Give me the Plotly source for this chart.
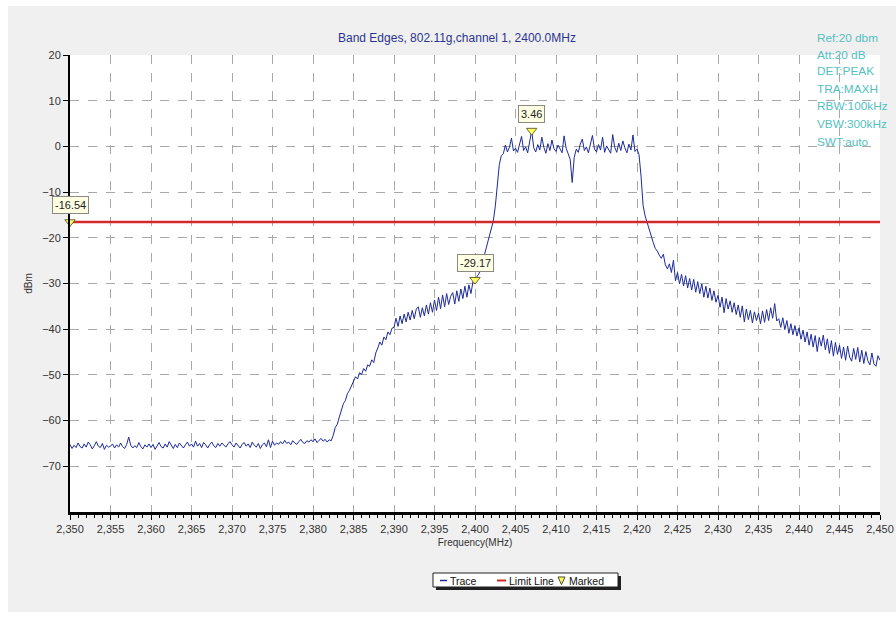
import plotly.graph_objects as go

# ---------------- data ----------------
freq_start = 2350.0
freq_step = 0.25
trace_dbm = [
    -65.2, -66.1, -65.4, -65.9, -64.9, -65.7, -66.0, -65.1, -65.8, -64.7, -65.3, -66.2, -65.5, -64.6, -65.6, -65.9, -65.0, -66.3, -65.4, -65.8,
    -65.6, -65.1, -66.0, -65.3, -65.8, -64.9, -65.7, -66.1, -65.2, -63.6, -65.4, -66.0, -65.5, -65.9, -64.8, -65.7, -66.2, -65.3, -65.8, -65.1,
    -65.9, -65.2, -66.3, -65.6, -64.8, -65.7, -66.0, -65.1, -65.8, -64.6, -65.5, -66.1, -65.2, -65.9, -64.9, -65.4, -66.0, -65.3, -64.7, -65.6,
    -65.1, -65.8, -64.5, -65.6, -65.0, -65.9, -64.8, -65.3, -66.0, -65.2, -64.7, -65.5, -65.9, -65.0, -65.6, -64.9, -65.4, -65.8, -65.1, -64.6,
    -65.3, -65.8, -64.9, -65.5, -66.0, -65.2, -64.8, -65.6, -65.1, -65.9, -64.7, -65.4, -65.8, -65.0, -66.1, -65.3, -64.9, -65.7, -64.2, -65.9,
    -64.5, -65.4, -64.9, -65.2, -64.6, -65.1, -64.3, -65.0, -64.7, -65.3, -64.4, -64.9, -65.2, -64.6, -64.1, -64.8, -65.0, -64.4, -64.7, -64.2,
    -64.6, -64.0, -64.8, -64.3, -63.9, -64.5, -64.1, -64.7, -64.2, -64.4, -63.2, -61.5, -60.8, -59.2, -57.5, -56.3, -55.6, -54.1, -53.4, -52.5,
    -51.6, -50.4, -50.9, -49.5, -49.9, -48.6, -49.2, -47.8, -48.1, -46.7, -47.3, -45.2, -44.1, -42.8, -43.5, -41.7, -42.3, -40.6, -41.2, -39.8,
    -39.6, -37.6, -39.4, -37.1, -38.8, -36.7, -38.4, -36.3, -38.0, -35.9, -37.7, -35.6, -35.1, -37.4, -35.3, -37.1, -34.7, -36.7, -34.2, -36.3,
    -33.6, -35.9, -33.0, -35.5, -32.5, -35.1, -32.2, -34.6, -32.8, -32.0, -34.5, -31.6, -33.9, -31.2, -33.3, -30.6, -33.0, -30.3, -32.2, -29.6,
    -29.17, -28.5, -27.8, -26.5, -24.8, -23.0, -21.3, -19.6, -18.2, -16.4, -13.2, -8.5, -4.0, -2.0, -1.6, 0.3, -1.2, -0.2, 1.8, -1.0,
    -0.4, -1.3, 0.2, 2.2, -0.9, -0.1, -1.4, 0.9, 3.46, -0.3, -1.2, 0.4, -0.8, 2.0, -0.2, -1.5, 0.6, -0.9, 1.4, -0.5,
    -1.1, 0.3, -0.7, -1.4, 2.3, -0.4, -1.6, -2.8, -7.9, -2.4, -0.6, -1.3, 0.5, 1.6, -0.9, -0.1, -1.4, 0.8, 2.4, -0.6,
    -1.2, 0.4, -0.8, 2.0, -1.3, 0.1, -0.6, -1.5, 2.6, -0.2, -1.3, 0.7, -0.9, 1.2, -0.3, -1.4, 0.5, -0.8, 2.5, -1.1,
    -0.6, -1.8, -6.5, -12.9, -15.2, -16.8, -18.4, -19.6, -21.0, -22.3, -22.9, -23.8, -24.5, -23.6, -25.9, -26.8, -25.7, -27.6, -24.9, -29.4,
    -27.6, -30.1, -28.0, -30.5, -28.3, -31.0, -28.9, -31.4, -29.1, -31.9, -29.6, -32.2, -30.1, -33.0, -30.6, -33.2, -31.0, -33.7, -31.6, -34.1,
    -32.6, -35.2, -33.0, -36.4, -33.3, -35.6, -33.8, -36.3, -34.2, -36.8, -34.7, -37.4, -34.9, -38.4, -35.6, -37.9, -35.9, -38.6, -36.2, -38.1,
    -36.5, -38.8, -36.0, -38.5, -35.7, -38.1, -35.3, -37.6, -34.4, -38.2, -37.7, -39.6, -37.5, -40.1, -38.1, -40.9, -38.8, -41.2, -39.2, -41.5,
    -39.7, -42.2, -40.2, -42.8, -40.6, -43.5, -41.1, -43.9, -41.4, -44.9, -41.8, -43.7, -41.3, -44.5, -42.1, -45.3, -42.5, -45.9, -42.9, -45.5,
    -43.5, -46.4, -43.9, -46.8, -43.7, -46.1, -47.0, -44.2, -46.6, -44.0, -47.2, -44.6, -47.5, -44.9, -46.9, -47.8, -45.2, -47.6, -48.1, -45.8,
    -46.8,
]
freq_mhz = [freq_start + freq_step * i for i in range(len(trace_dbm))]

limit_freq = [2350, 2450]
limit_dbm = -16.54

marker_freq = [2350, 2400, 2407]
marker_dbm = [-16.54, -29.17, 3.46]
marker_labels = ["-16.54", "-29.17", "3.46"]

x_ticks = list(range(2350, 2451, 5))
y_ticks = [20, 10, 0, -10, -20, -30, -40, -50, -60, -70]

title_text = "Band Edges, 802.11g,channel 1, 2400.0MHz"
info_lines = ["Ref:20 dbm", "Att:20 dB", "DET:PEAK", "TRA:MAXH", "RBW:100kHz", "VBW:300kHz", "SWT:auto"]
legend_items = ["Trace", "Limit Line", "Marked"]

# ---------------- layout helpers ----------------
W, H = 896, 617
L, R, T, B = 70, 16, 55, 105
PW, PH = W - L - R, H - T - B
FONT = "Liberation Sans, Arial, sans-serif"


def px(xp):
    return (xp - L) / PW


def py(yp):
    return (H - B - yp) / PH


TRACE_COLOR = "#1c2a9c"
LIMIT_COLOR = "#d02a2a"

fig = go.Figure()

fig.add_trace(go.Scatter(x=freq_mhz, y=trace_dbm, mode="lines",
                         line=dict(color=TRACE_COLOR, width=1), showlegend=False,
                         hoverinfo="skip"))
fig.add_trace(go.Scatter(x=limit_freq, y=[limit_dbm] * len(limit_freq), mode="lines",
                         line=dict(color=LIMIT_COLOR, width=2.5), showlegend=False,
                         hoverinfo="skip"))
fig.add_trace(go.Scatter(x=marker_freq, y=marker_dbm, mode="markers",
                         marker=dict(symbol="triangle-down", size=9, color="#ffff66",
                                     line=dict(color="#6b6b2a", width=1)),
                         cliponaxis=False, showlegend=False, hoverinfo="skip"))

annotations = []
for f, v, lab in zip(marker_freq, marker_dbm, marker_labels):
    annotations.append(dict(x=f, y=v, xref="x", yref="y", text=lab, showarrow=False,
                            yshift=17, font=dict(family=FONT, size=11, color="#222222"),
                            bgcolor="#ffffe4", bordercolor="#8a8a80", borderwidth=1, borderpad=2,
                            xanchor="center", yanchor="middle"))

annotations.append(dict(x=px(457), y=py(38), xref="paper", yref="paper", text=title_text,
                        showarrow=False, xanchor="center", yanchor="middle",
                        font=dict(family=FONT, size=12, color="#2b3590")))
info_y = [37.7, 55.0, 71.0, 88.5, 106.5, 124.0, 141.5]
for line, yy in zip(info_lines, info_y):
    annotations.append(dict(x=px(815), y=py(yy), xref="paper", yref="paper", text=line,
                            showarrow=False, xanchor="left", yanchor="middle",
                            font=dict(family=FONT, size=11.8, color="#55c0c2")))

# legend texts
legend_font = dict(family=FONT, size=10.5, color="#111111")
annotations.append(dict(x=px(448), y=py(580.5), xref="paper", yref="paper", text=legend_items[0],
                        showarrow=False, xanchor="left", yanchor="middle", font=legend_font))
annotations.append(dict(x=px(507), y=py(580.5), xref="paper", yref="paper", text=legend_items[1],
                        showarrow=False, xanchor="left", yanchor="middle", font=legend_font))
annotations.append(dict(x=px(567), y=py(580.5), xref="paper", yref="paper", text=legend_items[2],
                        showarrow=False, xanchor="left", yanchor="middle", font=legend_font))

shapes = []
# white outer edges
shapes.append(dict(type="rect", xref="paper", yref="paper", x0=px(0), x1=px(8), y0=py(H), y1=py(0),
                   fillcolor="white", line=dict(width=0), layer="below"))
shapes.append(dict(type="rect", xref="paper", yref="paper", x0=px(0), x1=px(W), y0=py(6), y1=py(0),
                   fillcolor="white", line=dict(width=0), layer="below"))
shapes.append(dict(type="rect", xref="paper", yref="paper", x0=px(0), x1=px(W), y0=py(H), y1=py(612),
                   fillcolor="white", line=dict(width=0), layer="below"))
# legend box with shadow
shapes.append(dict(type="rect", xref="paper", yref="paper", x0=px(436), x1=px(621), y0=py(590), y1=py(576),
                   fillcolor="#202020", line=dict(width=0)))
shapes.append(dict(type="rect", xref="paper", yref="paper", x0=px(433), x1=px(618), y0=py(587), y1=py(573),
                   fillcolor="white", line=dict(color="#202020", width=1)))
shapes.append(dict(type="line", xref="paper", yref="paper", x0=px(440), x1=px(447), y0=py(580.5), y1=py(580.5),
                   line=dict(color=TRACE_COLOR, width=1.5)))
shapes.append(dict(type="line", xref="paper", yref="paper", x0=px(497), x1=px(506), y0=py(580.5), y1=py(580.5),
                   line=dict(color=LIMIT_COLOR, width=2, dash="dash")))
shapes.append(dict(type="path", xref="paper", yref="paper",
                   path="M {} {} L {} {} L {} {} Z".format(px(558), py(577), px(565), py(577), px(561.5), py(584.5)),
                   fillcolor="#ffff66", line=dict(color="#4a4a20", width=1)))

fig.update_layout(
    width=W, height=H,
    autosize=False,
    margin=dict(l=L, r=R, t=T, b=B, pad=0, autoexpand=False),
    paper_bgcolor="#f0f0f0",
    plot_bgcolor="white",
    showlegend=False,
    separators=".,",
    font=dict(family=FONT, size=11, color="#333333"),
    annotations=annotations,
    shapes=shapes,
    xaxis=dict(
        range=[2350, 2450], tickvals=x_ticks, tickformat=",d", automargin=False,
        showline=True, linecolor="black", linewidth=2.5,
        ticks="outside", ticklen=5, tickcolor="black", tickwidth=1,
        minor=dict(dtick=1, ticks="outside", ticklen=3, tickcolor="black", showgrid=False),
        showgrid=True, gridcolor="#a8a8a8", gridwidth=1, griddash="dash",
        zeroline=False,
        tickfont=dict(family=FONT, size=11, color="#333333"),
        title=dict(text="Frequency(MHz)", font=dict(family=FONT, size=10, color="#333333"), standoff=6),
    ),
    yaxis=dict(
        range=[-80, 20], tickvals=y_ticks, automargin=False,
        showline=True, linecolor="black", linewidth=2,
        ticks="outside", ticklen=5, tickcolor="black", tickwidth=1,
        showgrid=True, gridcolor="#a8a8a8", gridwidth=1, griddash="dash",
        zeroline=False,
        tickfont=dict(family=FONT, size=11, color="#333333"),
        title=dict(text="dBm", font=dict(family=FONT, size=10, color="#333333"), standoff=8),
    ),
)

fig.write_html("out.html",
               config={"displayModeBar": False},
               post_script="document.body.style.margin='0';document.body.style.overflow='hidden';")
